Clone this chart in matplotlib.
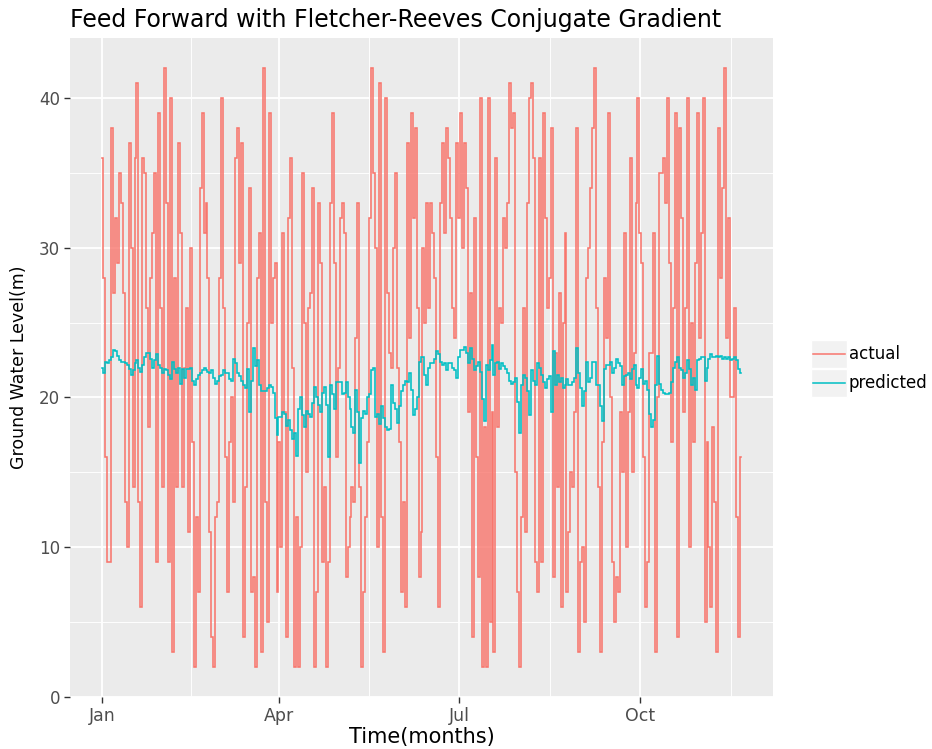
import matplotlib
matplotlib.use("Agg")
import matplotlib.pyplot as plt
import matplotlib.dates as mdates
from matplotlib.lines import Line2D
from matplotlib.patches import Rectangle
import numpy as np
import pandas as pd

# daily ground water level (m), starting 1 Jan
start_date = "2015-01-01"

actual = [
    36, 28, 16, 9, 9, 38, 27, 32, 29, 35, 33, 27, 13, 10, 37, 30, 14, 36, 41, 13,
    6, 36, 35, 26, 18, 28, 31, 35, 9, 39, 26, 14, 42, 33, 9, 40, 3, 28, 14, 37,
    31, 14, 22, 26, 11, 30, 17, 2, 12, 7, 34, 39, 31, 33, 28,
    11, 4, 2, 12, 13, 28, 40, 26, 16, 7, 17, 20, 13, 36, 38, 29, 37, 4, 14, 25,
    34, 7, 8, 2, 28, 31, 3, 42, 13, 5, 39, 25, 28, 29, 7, 17, 10, 31, 19, 4,
    32, 36, 22, 2, 12, 2, 10, 35, 25, 15, 26, 27, 34, 2, 7, 33,
    29, 9, 14, 2, 9, 33, 39, 29, 16, 22, 32, 33, 31, 8, 10, 12, 14, 13, 24, 33,
    14, 2, 7, 12, 17, 32, 42, 35, 30, 10, 41, 12, 3, 40, 27, 23, 22, 30, 35, 22,
    17, 7, 13, 6, 37, 24, 39, 32, 38, 26, 8, 11, 30, 25, 33, 26,
    33, 31, 28, 16, 6, 33, 37, 31, 38, 36, 32, 26, 24, 37, 32, 39, 30, 37, 34, 19,
    27, 4, 32, 16, 8, 40, 2, 18, 2, 40, 5, 19, 3, 36, 18, 26, 25, 32, 30, 33,
    41, 38, 39, 15, 7, 2, 12, 26, 11, 33, 40, 41, 36, 9, 7, 36, 9,
    39, 32, 26, 28, 38, 8, 23, 14, 27, 6, 25, 31, 7, 11, 15, 14, 19, 38, 3, 9,
    10, 5, 28, 30, 34, 38, 42, 26, 14, 3, 17, 28, 24, 39, 20, 9, 5, 8, 7, 19,
    15, 31, 10, 19, 36, 15, 23, 33, 40, 31, 29, 16, 6, 9, 23,
    23, 31, 3, 20, 35, 35, 36, 33, 40, 29, 17, 26, 39, 4, 38, 32, 19, 26, 40, 10,
    25, 17, 29, 39, 24, 31, 40, 5, 17, 10, 6, 18, 13, 3, 38, 28, 34, 42, 24, 32,
    20, 20, 26, 12, 4, 16,
]

predicted = [
    22.0, 21.6, 22.4, 22.3, 22.5, 22.7, 23.2, 23.1, 22.8, 22.5, 22.4, 22.4, 22.3, 22.2,
    21.9, 21.5, 21.8, 22.3, 22.5, 22.0, 21.7, 22.2, 22.7, 23.0, 23.0, 22.6, 22.0, 22.5,
    22.9, 22.2, 22.0, 21.6, 21.9, 21.8, 21.5, 21.2, 22.4, 21.9, 21.6, 22.0, 20.9, 21.9,
    21.3, 21.9, 21.9, 22.0, 21.1, 20.8, 21.2, 21.5, 21.6, 21.8, 22.0, 21.8, 21.7,
    21.6, 21.8, 21.3, 20.9, 21.1, 21.4, 21.5, 21.8, 21.6, 21.6, 21.2, 21.1, 22.6, 22.3,
    21.6, 21.4, 21.1, 20.8, 20.6, 21.9, 19.0, 21.1, 23.3, 22.1, 22.5, 20.8, 20.4, 20.4,
    20.4, 20.6, 20.8, 20.7, 20.3, 18.6, 17.5, 18.7, 18.7, 19.0, 18.9, 18.1, 18.5, 17.8,
    17.2, 17.6, 16.1, 19.2, 20.0, 18.8, 18.0, 19.1, 18.9, 18.7, 19.6, 20.7, 20.0, 19.5,
    19.0, 20.3, 20.7, 19.5, 16.0, 20.8, 20.2, 19.2, 21.0, 21.0, 21.0, 20.2, 20.3, 21.0,
    20.0, 19.2, 18.0, 17.6, 20.5, 19.0, 15.6, 18.6, 19.1, 18.9, 20.0, 20.2, 21.8, 22.0,
    18.7, 18.9, 18.2, 19.4, 18.6, 18.0, 17.8, 17.9, 20.8, 19.6, 19.2, 18.3, 19.4, 20.4,
    20.8, 21.1, 21.0, 21.6, 20.5, 18.8, 19.2, 20.0, 22.4, 22.7, 22.7, 21.5, 20.8, 22.0,
    22.3, 22.3, 22.6, 23.1, 22.9, 22.4, 22.2, 22.3, 21.8, 22.3, 22.3, 22.0, 21.8, 21.3,
    22.7, 23.2, 23.2, 23.4, 23.0, 22.3, 23.3, 22.6, 21.8, 22.1, 22.4, 21.7, 19.9, 18.4,
    22.2, 21.8, 22.5, 23.5, 21.5, 22.3, 22.4, 21.9, 22.3, 22.1, 21.9, 21.6, 21.1, 20.9,
    21.0, 21.3, 19.7, 17.6, 20.8, 21.5, 21.3, 20.4, 18.8, 21.8, 21.1, 20.8, 22.3, 22.0,
    21.5,
    21.0, 20.6, 21.2, 21.4, 19.0, 23.1, 20.8, 21.5, 21.0, 21.3, 20.6, 20.8, 21.2, 20.8,
    20.8, 21.0, 21.3, 23.3, 21.6, 20.6, 19.4, 20.4, 22.4, 21.0, 21.3, 22.4, 22.4, 20.8,
    20.8, 19.4, 18.4, 21.9, 22.2, 22.2, 22.4, 21.6, 22.0, 22.6, 22.3, 22.1, 20.8, 21.4,
    21.5, 21.6, 21.2, 21.9, 22.2, 20.8, 20.6, 21.3, 21.9, 20.9, 21.1, 20.5, 18.9,
    18.0, 18.5, 20.8, 22.8, 20.9, 20.5, 20.3, 20.2, 20.2, 20.3, 21.0, 22.0, 22.4, 22.7,
    22.0, 21.8, 21.3, 21.6, 22.5, 21.9, 20.8, 21.3, 20.5, 22.5, 22.6, 22.7, 22.7, 21.1,
    22.0, 22.6, 22.9, 22.7, 22.7, 22.8, 22.7, 22.8, 22.6, 22.7, 22.6, 22.7, 22.5, 22.6,
    22.7, 22.5, 21.9, 21.6,
]

series_names = ["actual", "predicted"]
series_colors = ["#F8766D", "#00BFC4"]
tick_months = ["2015-01-01", "2015-04-01", "2015-07-01", "2015-10-01", "2016-01-01"]
y_major = [0, 10, 20, 30, 40]

dates = pd.date_range(start_date, periods=len(actual), freq="D")
df = pd.DataFrame({"date": dates, "actual": actual, "predicted": predicted})

W, H = 932, 749
fig = plt.figure(figsize=(W / 100, H / 100), dpi=100)
plt.rcParams["font.family"] = ["DejaVu Sans"]

# panel placed in pixel coordinates, ggplot2 grey theme look
px_l, px_r, px_t, px_b = 70, 773, 38, 697
ax = fig.add_axes([px_l / W, 1 - px_b / H, (px_r - px_l) / W, (px_b - px_t) / H])
ax.set_facecolor("#EBEBEB")
for s in ax.spines.values():
    s.set_visible(False)

# readings change abruptly day to day, so draw each as a vertical jump
for name, col in zip(series_names, series_colors):
    ax.plot(df["date"], df[name], color=col, lw=1.15, drawstyle="steps-mid",
            solid_joinstyle="miter", zorder=3)

# ggplot-style 5% expansion on both scales
xnum = mdates.date2num(df["date"])
xr = xnum.max() - xnum.min()
ax.set_xlim(xnum.min() - 0.05 * xr, xnum.max() + 0.05 * xr)
vals = np.concatenate([df["actual"].values, df["predicted"].values])
yr = vals.max() - vals.min()
ax.set_ylim(vals.min() - 0.05 * yr, vals.max() + 0.05 * yr)

major_x = mdates.date2num(pd.to_datetime(tick_months))
minor_x = (major_x[:-1] + major_x[1:]) / 2
ax.set_xticks(major_x[:-1])
ax.set_xticklabels([d.strftime("%b") for d in pd.to_datetime(tick_months[:-1])])
ax.set_xticks(minor_x, minor=True)
ax.set_yticks(y_major)
ax.set_yticks([5, 15, 25, 35], minor=True)

ax.grid(which="major", color="white", lw=1.3, zorder=0)
ax.grid(which="minor", color="white", lw=0.65, zorder=0)
ax.set_axisbelow(True)

ax.tick_params(which="major", length=4, width=1.0, color="#333333",
               labelcolor="#4D4D4D", pad=3)
ax.tick_params(which="minor", length=0)
ax.tick_params(axis="y", labelsize=12)
ax.tick_params(axis="x", labelsize=12.5)

fig.text(px_l / W, 1 - 27 / H, "Feed Forward with Fletcher-Reeves Conjugate Gradient",
         ha="left", va="baseline", fontsize=17, color="black")
fig.text((px_l + px_r) / 2 / W, 1 - 737 / H, "Time(months)",
         ha="center", va="center", fontsize=15, color="black")
fig.text(19 / W, 1 - (px_t + px_b) / 2 / H, "Ground Water Level(m)",
         ha="center", va="center", rotation=90, fontsize=12.5, color="black")

# legend keys drawn in pixel coordinates
key_x0, key_w, key_h = 811, 36, 28
key_tops = [340, 369]
for top, name, col in zip(key_tops, series_names, series_colors):
    fig.add_artist(Rectangle((key_x0 / W, 1 - (top + key_h) / H), key_w / W, key_h / H,
                             transform=fig.transFigure, facecolor="#F2F2F2",
                             edgecolor="white", lw=1.0))
    yc = 1 - (top + key_h / 2) / H
    fig.add_artist(Line2D([(key_x0 + 2) / W, (key_x0 + key_w - 2) / W], [yc, yc],
                          transform=fig.transFigure, color=col, lw=1.1))
    fig.text((key_x0 + key_w + 2) / W, yc, name, ha="left", va="center",
             fontsize=12, color="black")

fig.savefig("out.png", dpi=100)
